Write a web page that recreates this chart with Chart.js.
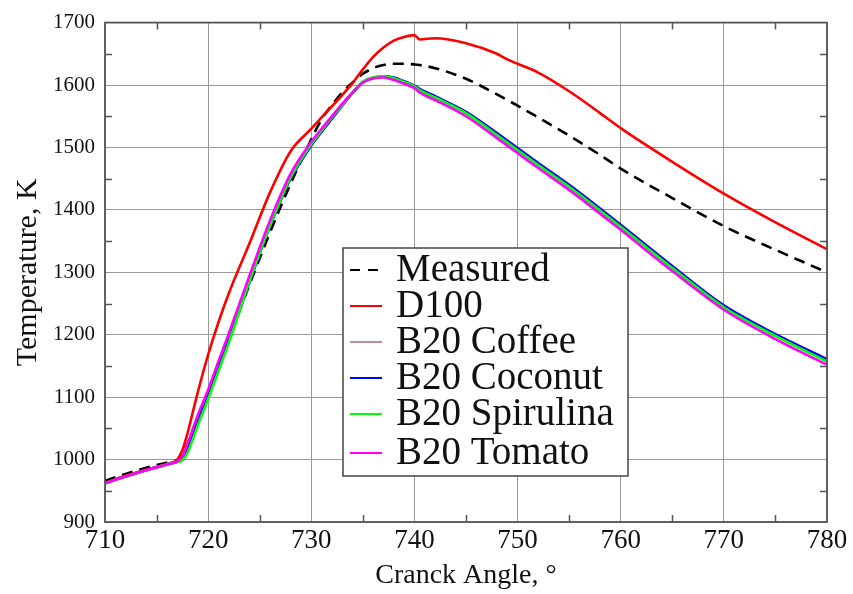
<!DOCTYPE html>
<html>
<head>
<meta charset="utf-8">
<script src="https://cdn.jsdelivr.net/npm/chart.js@4.4.1/dist/chart.umd.min.js"></script>
<style>
html,body{margin:0;padding:0;background:#fff;}
canvas{display:block;}
</style>
</head>
<body>
<canvas id="c" width="853" height="594"></canvas>
<script>
// Crank angle samples (degrees)
const angles = [710, 712, 714, 716, 717, 717.5, 718, 718.5, 719, 720, 721, 722, 724, 726, 728, 730, 731, 732, 733, 734, 735, 736, 737, 738, 739, 740, 740.5, 742, 745, 748, 749, 750, 752, 755, 758, 760, 765, 770, 775, 780];

const measured  = [966, 977, 987, 995, 999, 1006, 1025, 1047, 1068, 1108, 1150, 1193, 1280, 1364, 1442, 1513, 1545, 1568, 1588, 1604, 1618, 1627, 1632, 1634, 1634, 1633, 1632, 1627, 1610, 1585, 1576, 1567, 1548, 1519, 1488, 1466, 1419, 1374, 1336, 1300];
const d100      = [963, 974, 984, 993, 1000, 1015, 1042, 1075, 1108, 1168, 1220, 1266, 1346, 1428, 1494, 1530, 1548, 1566, 1584, 1603, 1625, 1645, 1660, 1671, 1677, 1680, 1673, 1675, 1667, 1650, 1641, 1634, 1620, 1590, 1555, 1531, 1477, 1426, 1380, 1337];
const coffee    = [962, 973, 983, 992, 996, 1000, 1013, 1035, 1058, 1100, 1144, 1189, 1285, 1376, 1453, 1506, 1527, 1548, 1568, 1588, 1605, 1612, 1614, 1611, 1605, 1598, 1592, 1580, 1555, 1520, 1508, 1497, 1473, 1438, 1400, 1374, 1308, 1245, 1199, 1158];
const coconut   = [962, 973, 983, 992, 997, 1001, 1015, 1037, 1060, 1101, 1145, 1190, 1284, 1374, 1450, 1503, 1525, 1546, 1567, 1587, 1604, 1611, 1614, 1612, 1606, 1599, 1594, 1582, 1557, 1523, 1511, 1499, 1475, 1440, 1402, 1376, 1310, 1247, 1201, 1161];
const spirulina = [962, 973, 983, 992, 996, 999, 1011, 1032, 1055, 1097, 1142, 1187, 1285, 1375, 1452, 1505, 1527, 1548, 1568, 1588, 1605, 1612, 1614, 1611, 1605, 1598, 1592, 1580, 1555, 1520, 1508, 1496, 1472, 1437, 1399, 1373, 1307, 1244, 1198, 1157];
const tomato    = [962, 973, 983, 992, 997, 1005, 1025, 1048, 1071, 1112, 1157, 1202, 1294, 1383, 1458, 1509, 1530, 1550, 1570, 1588, 1604, 1611, 1612, 1608, 1602, 1595, 1588, 1576, 1550, 1515, 1503, 1491, 1467, 1432, 1394, 1368, 1302, 1240, 1193, 1152];

const seriesNames  = ["Measured", "D100", "B20 Coffee", "B20 Coconut", "B20 Spirulina", "B20 Tomato"];
const seriesValues = [measured, d100, coffee, coconut, spirulina, tomato];
const seriesColors = ["#000000", "#ff0000", "#bc8f8f", "#0000ff", "#00ff00", "#ff00ff"];

const xTitle = "Cranck Angle, \u00B0";
const yTitle = "Temperature, K";

const SERIF = "'Liberation Serif', 'Times New Roman', serif";

const datasets = seriesNames.map((name, i) => ({
  label: name,
  data: angles.map((a, k) => ({x: a, y: seriesValues[i][k]})),
  borderColor: seriesColors[i],
  backgroundColor: seriesColors[i],
  borderWidth: 2.6,
  borderDash: i === 0 ? [11, 7] : [],
  pointRadius: 0,
  fill: false,
  cubicInterpolationMode: 'monotone',
  order: seriesNames.length - i
}));

const frameAndLegend = {
  id: 'frameAndLegend',
  afterDatasetsDraw(chart) {
    const ctx = chart.ctx;
    const a = chart.chartArea;
    const xs = chart.scales.x, ys = chart.scales.y;
    ctx.save();
    ctx.strokeStyle = '#555';
    ctx.lineWidth = 1.5;
    ctx.beginPath();
    for (let v = 715; v < 780; v += 10) {
      const px = Math.round(xs.getPixelForValue(v)) + 0.5;
      ctx.moveTo(px, a.bottom); ctx.lineTo(px, a.bottom - 7);
      ctx.moveTo(px, a.top); ctx.lineTo(px, a.top + 7);
    }
    for (let v = 950; v < 1700; v += 100) {
      const py = Math.round(ys.getPixelForValue(v)) + 0.5;
      ctx.moveTo(a.left, py); ctx.lineTo(a.left + 7, py);
      ctx.moveTo(a.right, py); ctx.lineTo(a.right - 7, py);
    }
    ctx.stroke();
    ctx.lineWidth = 1.8;
    ctx.strokeStyle = '#555';
    ctx.strokeRect(a.left, a.top, a.right - a.left, a.bottom - a.top);

    // legend box
    const bx = 343, by = 248, bw = 285, bh = 228;
    ctx.fillStyle = '#ffffff';
    ctx.fillRect(bx, by, bw, bh);
    ctx.lineWidth = 1.5;
    ctx.strokeStyle = '#444';
    ctx.strokeRect(bx, by, bw, bh);
    ctx.font = "39px " + SERIF;
    ctx.textBaseline = 'middle';
    ctx.textAlign = 'left';
    const rowY = [270, 306, 342, 378, 414, 453];
    chart.data.datasets.forEach((ds, i) => {
      const y = rowY[i];
      ctx.beginPath();
      ctx.strokeStyle = ds.borderColor;
      ctx.lineWidth = 2;
      ctx.setLineDash(i === 0 ? [10, 8] : []);
      ctx.moveTo(350, y); ctx.lineTo(382, y);
      ctx.stroke();
      ctx.setLineDash([]);
      ctx.fillStyle = '#111';
      ctx.fillText(ds.label, 396, y + 1);
    });
    ctx.restore();
  }
};

new Chart(document.getElementById('c'), {
  type: 'line',
  data: { datasets },
  options: {
    responsive: false,
    animation: false,
    devicePixelRatio: 1,
    layout: { padding: { left: 0, right: 26, top: 16, bottom: 0 } },
    plugins: { legend: { display: false }, tooltip: { enabled: false } },
    scales: {
      x: {
        type: 'linear',
        min: 710, max: 780,
        ticks: { stepSize: 10, color: '#111', font: { family: SERIF, size: 27 }, padding: 3, maxRotation: 0, callback: v => String(v) },
        grid: { color: '#999', lineWidth: 1, drawTicks: false },
        border: { display: false },
        title: { display: true, text: xTitle, color: '#111', font: { family: SERIF, size: 28 }, padding: { top: 0, bottom: 2 } },
        afterFit(s) { s.height = 72; }
      },
      y: {
        type: 'linear',
        min: 900, max: 1700,
        ticks: { stepSize: 100, color: '#111', font: { family: SERIF, size: 21 }, padding: 10, callback: v => String(v) },
        grid: { color: '#999', lineWidth: 1, drawTicks: false },
        border: { display: false },
        title: { display: true, text: yTitle, color: '#111', font: { family: SERIF, size: 30 }, padding: { top: 10, bottom: 0 } },
        afterFit(s) { s.width = 105; }
      }
    }
  },
  plugins: [frameAndLegend]
});
</script>
</body>
</html>
